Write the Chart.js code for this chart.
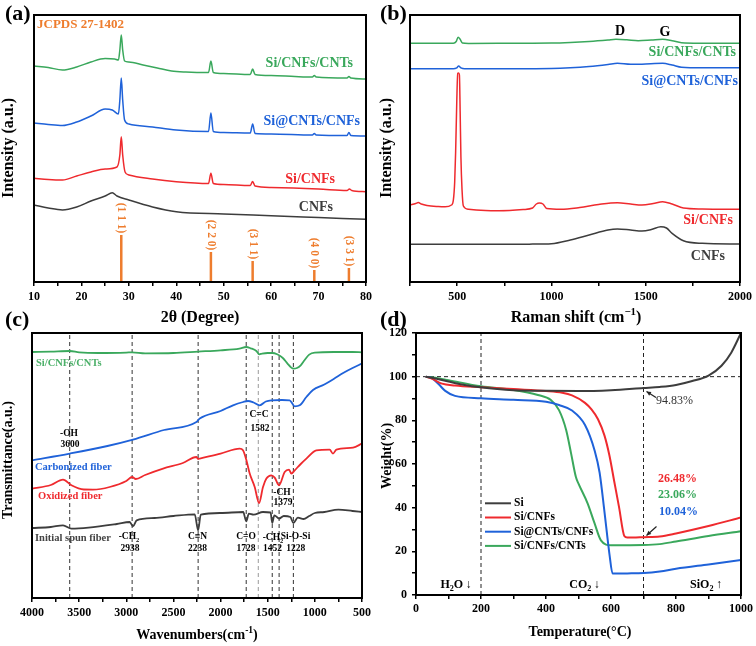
<!DOCTYPE html>
<html><head><meta charset="utf-8">
<script src="https://cdn.jsdelivr.net/npm/chart.js@4.4.1/dist/chart.umd.min.js"></script>
<style>
html,body{margin:0;padding:0;background:#fff;}
#wrap{position:relative;width:756px;height:646px;overflow:hidden;background:#fff;}
#wrap canvas{position:absolute;left:0;top:0;}
</style>
</head><body><div id="wrap">
<canvas id="ca" width="756" height="646"></canvas>
<canvas id="cb" width="756" height="646"></canvas>
<canvas id="cc" width="756" height="646"></canvas>
<canvas id="cd" width="756" height="646"></canvas>
</div>
<script>
// ================= DATA =================
// (a) XRD, 2θ (degree) vs intensity (a.u., offset)
const xrdSiCnfsCnts = [[10,216],[13,214.5],[16,212],[19,215],[22,220],[25,223.5],[27,223],[27.8,222],[28.1,232],[28.4,247],[28.7,232],[29.1,221],[30,220],[33,217],[36,214],[39,211],[42,210],[46.8,209.5],[47.3,221],[47.8,209.5],[50,208.5],[55.6,207.5],[56.1,213],[56.6,207.5],[60,206.5],[65,205.5],[68.7,205],[69.1,206.5],[69.5,205],[76,204],[76.4,205.5],[76.8,204],[80,203]];
const xrdSiCntsCnfs = [[10,159],[13,157.5],[16,156.5],[19,160],[22,166],[25,173],[26.5,172],[27.8,168],[28.1,182],[28.4,204],[28.7,182],[29.1,162],[30,158],[35,155],[40,152],[46.8,150.5],[47.3,169],[47.8,150.5],[50,149.5],[55.6,149],[56.1,158],[56.6,148.5],[60,148],[68.7,147],[69.1,148.5],[69.5,147],[76,146.5],[76.4,149.5],[76.8,146.5],[80,146]];
const xrdSiCnfs = [[10,103.7],[13,102.5],[16,102],[19,106],[22,110],[25,113],[27.5,115],[28.1,127],[28.4,145.3],[28.7,127],[29.2,110],[30,107],[35,103],[40,100.3],[46.8,98.5],[47.3,108.7],[47.8,98.5],[50,97.5],[55.6,96.5],[56.1,100.5],[56.6,96],[60,94.5],[70,93],[76,91.5],[76.5,93],[77,91.5],[80,90.3]];
const xrdCnfs = [[10,77],[13,74],[16,72],[19,75],[22,81],[25,86],[26.5,89.3],[27.5,86],[30,82],[35,75],[40,70.3],[50,68],[60,66.3],[70,64.5],[80,62.7]];
const xrdRefPos = [28.4, 47.3, 56.1, 69.1, 76.4];
const xrdRefInt = [47, 30, 21, 12, 14];
const xrdRefHkl = ['(1 1 1)','(2 2 0)','(3 1 1)','(4 0 0)','(3 3 1)'];

// (b) Raman, shift (cm-1) vs intensity (a.u., offset)
const ramanSiCnfsCnts = [[250,238.7],[400,238.7],[480,238.8],[495,240.5],[505,244.7],[515,243],[528,239],[560,238.6],[800,238.8],[1000,239],[1100,239.6],[1200,240.6],[1300,242],[1342,242.7],[1400,242.2],[1460,241.3],[1530,242],[1590,242.7],[1640,241.3],[1690,239.3],[1800,238.8],[2000,238.7]];
const ramanSiCntsCnfs = [[250,213.3],[480,213.3],[498,214.2],[508,216],[520,214.2],[540,213.3],[800,213.3],[1000,213.5],[1100,214.2],[1200,215.5],[1300,217.5],[1350,218.7],[1420,217.7],[1480,217.8],[1590,218.7],[1640,217],[1690,214.8],[1800,214.2],[2000,214.3]];
const ramanSiCnfs = [[250,77],[280,78.5],[294,79.5],[310,78],[340,76.5],[400,75.5],[436,75.3],[470,77],[480,82],[487,100],[492,130],[498,180],[503,208.7],[508,209],[512,207],[516,170],[520,125],[526,92],[533,76],[560,72.7],[650,71.5],[719,71.3],[850,72.5],[900,74],[920,78],[936,79],[955,78],[975,73.5],[1050,72.7],[1150,74.5],[1250,77.5],[1350,79.3],[1420,78],[1480,77],[1540,78.5],[1590,80.3],[1640,78],[1700,74],[1800,73],[2000,72.7]];
const ramanCnfs = [[250,37.7],[500,37.7],[700,37.7],[900,37.9],[1000,38.3],[1100,42],[1200,47],[1300,52],[1350,53],[1420,52],[1480,51],[1530,52.5],[1580,55.3],[1610,54],[1640,48.7],[1700,41.3],[1800,38.7],[2000,38]];

// (c) FTIR, wavenumber (cm-1) vs transmittance (a.u., offset)
const ftirSiCnfsCnts = [[4000,246],[3800,246.4],[3600,247],[3500,245.7],[3300,245],[3000,245.4],[2938,245.7],[2800,244.7],[2500,245],[2238,246.4],[2000,247.7],[1800,249.4],[1728,251],[1680,249.7],[1620,247],[1590,243.7],[1560,244.4],[1500,245],[1452,245],[1400,243.7],[1340,240],[1290,234.4],[1250,230.4],[1228,229.4],[1190,230],[1150,232.7],[1110,237.7],[1060,243.4],[1000,245.4],[800,246],[600,246],[500,245.7]];
const ftirCarbonized = [[4000,137.7],[3600,144.4],[3200,152],[2929,158.4],[2600,168],[2256,176],[2221,179.4],[2000,187],[1868,192.7],[1760,196],[1709,197],[1650,195.5],[1585,192.7],[1520,196.5],[1461,197.7],[1350,198],[1267,197.7],[1214,191.7],[1161,192.7],[1090,201],[1020,208],[900,213.5],[800,219],[700,225],[600,230],[500,234.4]];
const ftirOxidized = [[4000,109.4],[3800,113],[3671,118.4],[3582,112.7],[3450,108.5],[3353,108.4],[3176,111],[3000,117],[2938,121],[2900,119],[2800,123],[2610,129.4],[2400,135],[2256,141],[2238,139],[2221,139.4],[2000,144.4],[1797,149.4],[1762,147.7],[1726,137.7],[1691,124.4],[1638,111],[1592,95],[1550,111],[1514,119.4],[1461,122.7],[1426,120.4],[1380,112.7],[1320,126],[1274,128.4],[1249,124.4],[1214,127.7],[1150,134],[1090,139.4],[984,147.7],[843,148.4],[808,144.4],[772,148.4],[595,150.4],[500,154.4]];
const ftirInitial = [[4000,70],[3800,71],[3671,72.7],[3582,69.4],[3400,70.4],[3100,74],[2964,76],[2929,71.7],[2890,77.7],[2700,80],[2500,82],[2274,83.7],[2238,67.7],[2210,83.4],[2000,85],[1760,86],[1728,76.7],[1700,84.4],[1650,83.4],[1550,86],[1470,85.5],[1452,75],[1430,82.7],[1379,79.4],[1330,82],[1260,81],[1228,75],[1180,80.4],[1120,79],[1060,82],[1000,85],[900,86],[750,88.4],[600,87],[500,86]];
const ftirMarks = [3600, 2938, 2238, 1728, 1600, 1452, 1379, 1228];

// (d) TGA, temperature (°C) vs weight (%)
const tgaSi = [[30,100],[60,99.2],[100,97.8],[150,96.2],[200,95.1],[250,94.3],[300,93.8],[400,93.5],[500,93.4],[600,93.8],[700,94.8],[750,95.3],[800,96.2],[850,98],[900,100.5],[940,105],[970,111],[1000,120]];
const tgaSiCnfs = [[30,100],[50,99],[80,96.8],[120,96],[200,95.2],[300,94.3],[400,93.4],[450,92.6],[480,91.4],[520,88],[540,85],[560,80.5],[580,73],[595,64],[610,52],[625,40],[641,27],[650,26.3],[700,26.5],[750,26.8],[800,28.2],[900,31.6],[1000,35.5]];
const tgaSiCntsCnfs = [[30,100],[50,99.2],[70,96.5],[90,93.5],[120,91.2],[200,90.1],[300,89.4],[400,88.5],[440,87],[480,84.5],[520,77.9],[550,66],[565,56],[580,38],[595,19],[605,9.8],[650,9.9],[700,10.1],[750,10.8],[800,12],[900,14],[1000,16]];
const tgaSiCnfsCnts = [[30,100],[60,99.5],[100,98.4],[200,95.6],[300,93.9],[375,91.6],[415,89.3],[440,84.7],[462,75.6],[477,65],[492,54],[500,51],[528,42],[549,33],[569,25],[600,22.8],[700,22.9],[750,23.3],[800,24.5],[900,27],[1000,29.2]];
const tgaRefT = [200, 700];
const tgaRefW = [100];
const tgaNames = ['Si','Si/CNFs','Si@CNTs/CNFs','Si/CNFs/CNTs'];

// ================= STYLE / HELPERS =================
const FONT = "'Liberation Serif','Times New Roman',serif";
const COL = {black:'#3d3d3d', red:'#ef2a2e', blue:'#1f62d9', green:'#3aa85c', orange:'#ee7d2e'};
const pts = a => a.map(([x,y]) => ({x, y}));
const line = (data, color, w) => ({data: pts(data), borderColor: color, borderWidth: w, pointRadius: 0, fill: false});
function vlines(vals, lo, hi){ const out=[]; vals.forEach(v=>{out.push({x:v,y:lo},{x:v,y:hi},{x:v,y:null});}); return out; }
function dashSet(data, color){ return {data, borderColor: color, borderWidth: 1, borderDash:[4,3], pointRadius:0, spanGaps:false, cubicInterpolationMode:'default', tension:0}; }

function rich(ctx, segs, x, y, o={}){
  const size=o.size||12, bold=o.bold!==false, color=o.color||'#000', align=o.align||'center', rot=o.rot||0;
  const f = s => `${bold?'bold ':''}${s}px ${FONT}`;
  if (typeof segs==='string') segs=[{t:segs}];
  let w=0;
  const parts = segs.map(s=>{ const sz=(s.sup||s.sub)?size*0.68:size; ctx.font=f(sz); const pw=ctx.measureText(s.t).width; const p={...s,sz,px:w}; w+=pw; return p; });
  ctx.save(); ctx.translate(x,y); if(rot) ctx.rotate(rot);
  const x0 = align==='center' ? -w/2 : (align==='right' ? -w : 0);
  ctx.fillStyle=color; ctx.textBaseline='middle'; ctx.textAlign='left';
  parts.forEach(p=>{ ctx.font=f(p.sz); const dy=p.sup?-size*0.35:(p.sub?size*0.3:0); ctx.fillText(p.t, x0+p.px, dy); });
  ctx.restore();
}
function arrow(ctx, x1,y1,x2,y2,color){
  ctx.save(); ctx.strokeStyle=color; ctx.fillStyle=color; ctx.lineWidth=1.2;
  ctx.beginPath(); ctx.moveTo(x1,y1); ctx.lineTo(x2,y2); ctx.stroke();
  const a=Math.atan2(y2-y1,x2-x1), L=5;
  ctx.beginPath(); ctx.moveTo(x2,y2); ctx.lineTo(x2-L*Math.cos(a-0.45),y2-L*Math.sin(a-0.45)); ctx.lineTo(x2-L*Math.cos(a+0.45),y2-L*Math.sin(a+0.45)); ctx.closePath(); ctx.fill();
  ctx.restore();
}
function decoPlugin(draw){
  return {id:'deco', afterDraw(chart){
    const ctx=chart.ctx, a=chart.chartArea;
    ctx.save(); ctx.strokeStyle='#000'; ctx.lineWidth=2; ctx.strokeRect(a.left,a.top,a.right-a.left,a.bottom-a.top); ctx.restore();
    draw(chart, ctx);
  }};
}
const tickFont = {family:FONT, size:12, weight:'bold'};
function xAxis(min,max,step,every,reverse,showLabels=true){
  return {type:'linear', min, max, reverse:!!reverse,
    ticks:{stepSize:step, autoSkip:false, maxRotation:0, font:tickFont, color:'#000', padding:4, display:showLabels,
      callback:v => (Math.abs(v % every) < 1e-6 ? String(v) : '')},
    grid:{display:true, drawOnChartArea:false, drawTicks:true, tickLength:4, color:'#000', lineWidth:1.5},
    border:{display:false}};
}
function yAxisBlank(min,max){ return {type:'linear', min, max, ticks:{display:false}, grid:{display:false}, border:{display:false}}; }

function makeChart(id, pad, yW, xH, xs, ys, datasets, plugin){
  xs.afterFit = s => { s.height = xH; };
  ys.afterFit = s => { s.width = yW; };
  return new Chart(document.getElementById(id), {
    type:'line', data:{datasets},
    options:{responsive:false, animation:false, devicePixelRatio:1, events:[],
      layout:{padding:pad},
      plugins:{legend:{display:false}, tooltip:{enabled:false}},
      elements:{point:{radius:0}, line:{cubicInterpolationMode:'monotone'}},
      scales:{x:xs, y:ys}},
    plugins:[plugin]
  });
}

// ================= (a) XRD =================
const refData = []; xrdRefPos.forEach((p,i)=>{ refData.push({x:p,y:0},{x:p,y:xrdRefInt[i]},{x:p,y:null}); });
makeChart('ca', {left:0, top:15, right:390, bottom:324}, 34, 40,
  xAxis(10,80,5,10), yAxisBlank(0,267),
  [ line(xrdSiCnfsCnts, COL.green, 1.5), line(xrdSiCntsCnfs, COL.blue, 1.5), line(xrdSiCnfs, COL.red, 1.5), line(xrdCnfs, COL.black, 1.5),
    {data:refData, borderColor:COL.orange, borderWidth:2.5, pointRadius:0, spanGaps:false, tension:0, cubicInterpolationMode:'default'} ],
  decoPlugin((chart, ctx)=>{
    const sx=chart.scales.x, sy=chart.scales.y;
    rich(ctx,'(a)',5,14,{size:22,align:'left'});
    rich(ctx,'Intensity (a.u.)',9,148,{size:16,rot:-Math.PI/2});
    rich(ctx,'2θ (Degree)',200,318,{size:16});
    rich(ctx,'JCPDS 27-1402',37,25,{size:13,color:COL.orange,align:'left'});
    rich(ctx,'Si/CNFs/CNTs',353,63,{size:14,color:COL.green,align:'right'});
    rich(ctx,'Si@CNTs/CNFs',360,121,{size:14,color:COL.blue,align:'right'});
    rich(ctx,'Si/CNFs',335,179,{size:14,color:COL.red,align:'right'});
    rich(ctx,'CNFs',333,207,{size:14,color:COL.black,align:'right'});
    xrdRefPos.forEach((p,i)=>{
      const px=sx.getPixelForValue(p), top=sy.getPixelForValue(xrdRefInt[i]);
      rich(ctx,xrdRefHkl[i],px,top-17,{size:11.5,color:COL.orange,rot:Math.PI/2});
    });
  }));

// ================= (b) Raman =================
makeChart('cb', {left:378, top:15, right:16, bottom:324}, 32, 40,
  xAxis(250,2000,250,500), yAxisBlank(0,267),
  [ line(ramanSiCnfsCnts, COL.green, 1.5), line(ramanSiCntsCnfs, COL.blue, 1.5), line(ramanSiCnfs, COL.red, 1.5), line(ramanCnfs, COL.black, 1.5) ],
  decoPlugin((chart, ctx)=>{
    rich(ctx,'(b)',380,14,{size:22,align:'left'});
    rich(ctx,'Intensity (a.u.)',387,148,{size:16,rot:-Math.PI/2});
    rich(ctx,[{t:'Raman shift (cm'},{t:'−1',sup:true},{t:')'}],576,318,{size:16});
    rich(ctx,'D',620,31,{size:14});
    rich(ctx,'G',665,32,{size:14});
    rich(ctx,'Si/CNFs/CNTs',736,52,{size:14,color:COL.green,align:'right'});
    rich(ctx,'Si@CNTs/CNFs',738,81,{size:14,color:COL.blue,align:'right'});
    rich(ctx,'Si/CNFs',733,220,{size:14,color:COL.red,align:'right'});
    rich(ctx,'CNFs',725,256,{size:14,color:COL.black,align:'right'});
  }));

// ================= (c) FTIR =================
const markData = vlines(ftirMarks.filter(v=>v!==1600), 0, 265);
makeChart('cc', {left:0, top:333, right:394, bottom:8}, 32, 40,
  xAxis(500,4000,250,500,true), yAxisBlank(0,265),
  [ line(ftirSiCnfsCnts, COL.green, 1.8), line(ftirCarbonized, COL.blue, 1.8), line(ftirOxidized, COL.red, 1.8), line(ftirInitial, COL.black, 1.8),
    dashSet(markData, '#333'), dashSet(vlines([1600],0,265), '#9a9a9a') ],
  decoPlugin((chart, ctx)=>{
    rich(ctx,'(c)',5,320,{size:22,align:'left'});
    rich(ctx,'Transmittance(a.u.)',8,460,{size:14,rot:-Math.PI/2});
    rich(ctx,[{t:'Wavenumbers(cm'},{t:'-1',sup:true},{t:')'}],197,635,{size:14});
    rich(ctx,'Si/CNFs/CNTs',36,363,{size:10.5,color:'#4cb069',align:'left'});
    rich(ctx,'Carbonized fiber',35,467,{size:10.5,color:COL.blue,align:'left'});
    rich(ctx,'Oxidized fiber',38,496,{size:10.5,color:COL.red,align:'left'});
    rich(ctx,'Initial spun fiber',35,538,{size:10.5,color:'#444',align:'left'});
    const s=9.5;
    rich(ctx,'-OH',69,434,{size:s}); rich(ctx,'3600',70,445,{size:s});
    rich(ctx,'C=C',259,415,{size:s}); rich(ctx,'1582',260,429,{size:s});
    rich(ctx,'-CH',282,493,{size:s}); rich(ctx,'1379',283,503,{size:s});
    rich(ctx,[{t:'-CH'},{t:'2',sub:true}],129,537,{size:s}); rich(ctx,'2938',130,549,{size:s});
    rich(ctx,'C≡N',197.5,537,{size:s}); rich(ctx,'2238',197.5,549,{size:s});
    rich(ctx,'C=O',246,537,{size:s}); rich(ctx,'1728',246,549,{size:s});
    rich(ctx,[{t:'-CH'},{t:'2',sub:true}],273,538,{size:s}); rich(ctx,'1452',272.5,549,{size:s});
    rich(ctx,'Si-O-Si',295.5,537,{size:s}); rich(ctx,'1228',295.7,549,{size:s});
  }));

// ================= (d) TGA =================
const tgaCols = [COL.black, COL.red, COL.blue, COL.green];
const yD = xAxis(0,120,10,20); yD.ticks.padding = 5;
const xD = xAxis(0,1000,100,200); xD.ticks.padding = 3;
const refH = []; tgaRefW.forEach(w=>{ refH.push({x:0,y:w},{x:1000,y:w},{x:0,y:null}); });
makeChart('cd', {left:378, top:333, right:15, bottom:11}, 38, 40,
  xD, yD,
  [ line(tgaSi, tgaCols[0], 2), line(tgaSiCnfs, tgaCols[1], 2), line(tgaSiCntsCnfs, tgaCols[2], 2), line(tgaSiCnfsCnts, tgaCols[3], 2),
    dashSet(vlines(tgaRefT,0,120), '#222'), dashSet(refH, '#222') ],
  decoPlugin((chart, ctx)=>{
    rich(ctx,'(d)',380,320,{size:22,align:'left'});
    rich(ctx,'Weight(%)',387,456,{size:14,rot:-Math.PI/2});
    rich(ctx,'Temperature(°C)',580,632,{size:14});
    tgaNames.forEach((n,i)=>{
      const y=503.3+i*14.2;
      ctx.save(); ctx.strokeStyle=tgaCols[i]; ctx.lineWidth=2; ctx.beginPath(); ctx.moveTo(485,y); ctx.lineTo(511,y); ctx.stroke(); ctx.restore();
      rich(ctx,n,514,y,{size:11.5,align:'left'});
    });
    rich(ctx,'94.83%',656,401,{size:12,bold:false,color:'#333',align:'left'});
    rich(ctx,'26.48%',658,478.5,{size:12,color:COL.red,align:'left'});
    rich(ctx,'23.06%',658,495,{size:12,color:COL.green,align:'left'});
    rich(ctx,'10.04%',659,511.7,{size:12,color:COL.blue,align:'left'});
    arrow(ctx,656,397.5,646.5,391.5,'#222');
    arrow(ctx,656.5,526.5,646.5,535.5,'#222');
    rich(ctx,[{t:'H'},{t:'2',sub:true},{t:'O\u2009↓'}],456,585,{size:12});
    rich(ctx,[{t:'CO'},{t:'2',sub:true},{t:'\u2009↓'}],584.5,585,{size:12});
    rich(ctx,[{t:'SiO'},{t:'2',sub:true},{t:'\u2009↑'}],706,585,{size:12});
  }));
</script>
</body></html>
